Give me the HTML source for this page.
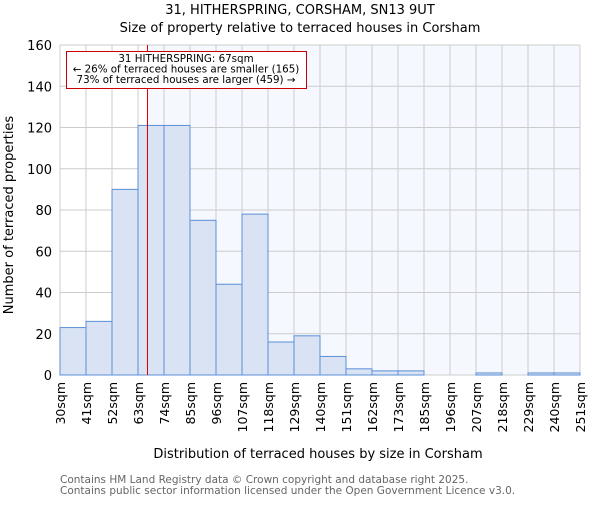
<!DOCTYPE html>
<html><head><meta charset="utf-8"><style>
body{margin:0;background:#fff}
svg text{font-family:"DejaVu Sans","Liberation Sans",sans-serif}
</style></head><body>
<svg id="c" width="600" height="500" xmlns="http://www.w3.org/2000/svg">
<text x="300" y="14" text-anchor="middle" font-size="13">31, HITHERSPRING, CORSHAM, SN13 9UT</text>
<text x="300" y="32" text-anchor="middle" font-size="13">Size of property relative to terraced houses in Corsham</text>
<g id="plot"></g>
<text x="318" y="458" text-anchor="middle" font-size="13">Distribution of terraced houses by size in Corsham</text>
<text transform="translate(13,215) rotate(-90)" text-anchor="middle" font-size="13">Number of terraced properties</text>
<text x="60" y="483" font-size="10.5" fill="#666">Contains HM Land Registry data © Crown copyright and database right 2025.</text>
<text x="60" y="494" font-size="10.5" fill="#666">Contains public sector information licensed under the Open Government Licence v3.0.</text>
</svg>
<script>
const binLabels=["30sqm","41sqm","52sqm","63sqm","74sqm","85sqm","96sqm","107sqm","118sqm","129sqm","140sqm","151sqm","162sqm","173sqm","185sqm","196sqm","207sqm","218sqm","229sqm","240sqm","251sqm"];
const counts=[23,26,90,121,121,75,44,78,16,19,9,3,2,2,0,0,1,0,1,1];
const yTicks=[0,20,40,60,80,100,120,140,160];
const propertySize=67;
const binStart=30,binWidth=11;
const L=60,R=580,T=45,B=375,yMax=160;
const n=counts.length;
const xb=i=>L+(R-L)*i/n;
const xv=v=>L+(R-L)*(v-binStart)/(binWidth*n);
const y=v=>B-(B-T)*v/yMax;
const g=document.getElementById('plot');
const NS='http://www.w3.org/2000/svg';
function mk(t,a){const e=document.createElementNS(NS,t);for(const k in a)e.setAttribute(k,a[k]);g.appendChild(e);return e;}
const px=Math.round(xv(propertySize))+0.5;
let e=mk('rect',{x:L,y:T,width:R-L,height:B-T,fill:'#f5f8fe'});


e=mk('rect',{x:L,y:T,width:px-L,height:B-T,fill:'#fff'});


for(let i=0;i<=n;i++){e=mk('line',{x1:xb(i),x2:xb(i),y1:T,y2:B,stroke:'#ccc','stroke-width':1});

}
yTicks.forEach(t=>{e=mk('line',{x1:L,x2:R,y1:y(t),y2:y(t),stroke:'#ccc','stroke-width':1});


e=mk('text',{x:L-8,y:y(t)+5,'text-anchor':'end','font-size':13});e.textContent=t;

});
counts.forEach((c,i)=>{e=mk('rect',{x:xb(i),y:y(c),width:xb(i+1)-xb(i),height:B-y(c),fill:'#d9e3f4',stroke:'#5b8fd6','stroke-width':1});

});
binLabels.forEach((l,i)=>{e=mk('text',{transform:`translate(${xb(i)+5},382) rotate(-90)`,'text-anchor':'end','font-size':12.5});e.textContent=l;

});
e=mk('line',{x1:px,x2:px,y1:T,y2:B,stroke:'#e00000','stroke-width':1});


e=mk('rect',{x:66.5,y:51.5,width:240,height:37,fill:'#fff',stroke:'#cc0000','stroke-width':1});


["31 HITHERSPRING: 67sqm","← 26% of terraced houses are smaller (165)","73% of terraced houses are larger (459) →"].forEach((s,i)=>{
e=mk('text',{x:186,y:62+i*10.5,'text-anchor':'middle','font-size':10.3});e.textContent=s;

});
</script>
</body></html>
